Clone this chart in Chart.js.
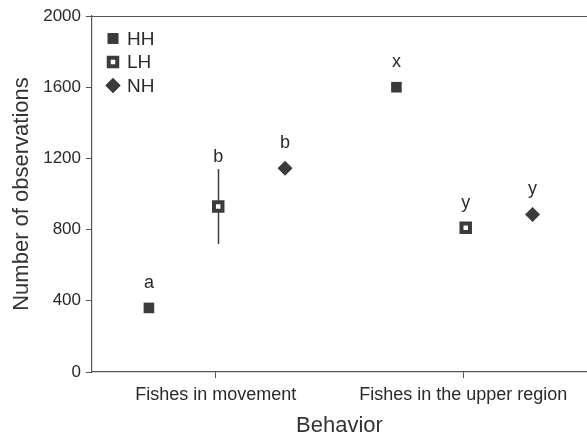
<!DOCTYPE html>
<html>
<head>
<meta charset="utf-8">
<script src="https://cdn.jsdelivr.net/npm/chart.js@4.4.0/dist/chart.umd.min.js"></script>
<style>
  html, body { margin: 0; padding: 0; background: #fff; overflow: hidden; }
  #wrap { width: 587px; height: 434px; }
</style>
</head>
<body>
<div id="wrap"><canvas id="chart"></canvas></div>
<script>
// data
const categories = ["Fishes in movement", "Fishes in the upper region"];
const groups = ["HH", "LH", "NH"];
const groupOffsets = [-0.27, 0.01, 0.28];
const hhValues = [360, 1600];
const lhValues = [930, 810];
const nhValues = [1145, 885];
const hhErrors = [15, 0];
const lhErrors = [210, 25];
const nhErrors = [0, 30];
const hhLetters = ["a", "x"];
const lhLetters = ["b", "y"];
const nhLetters = ["b", "y"];
const yTicks = [0, 400, 800, 1200, 1600, 2000];

const ink = '#3b3b3b';
const font = 'Liberation Sans, Arial, sans-serif';

function points(values, g) {
  return values.map((v, i) => ({ x: i + 1 + groupOffsets[g], y: v }));
}

const seriesValues = [hhValues, lhValues, nhValues];
const seriesErrors = [hhErrors, lhErrors, nhErrors];
const seriesLetters = [hhLetters, lhLetters, nhLetters];

// error bars, letters, top frame line and legend
const extras = {
  id: 'extras',
  beforeDatasetsDraw(chart) {
    const { ctx, scales: { x, y } } = chart;
    ctx.save();
    ctx.strokeStyle = ink;
    ctx.lineWidth = 1.5;
    seriesValues.forEach((vals, g) => {
      vals.forEach((v, i) => {
        const e = seriesErrors[g][i];
        if (!e) return;
        const px = Math.round(x.getPixelForValue(i + 1 + groupOffsets[g])) + 0.5;
        ctx.beginPath();
        ctx.moveTo(px, y.getPixelForValue(v - e));
        ctx.lineTo(px, y.getPixelForValue(v + e));
        ctx.stroke();
      });
    });
    ctx.restore();
  },
  afterDraw(chart) {
    const { ctx, chartArea, scales: { x, y } } = chart;
    ctx.save();
    // top frame
    ctx.strokeStyle = '#555';
    ctx.lineWidth = 1.2;
    ctx.beginPath();
    ctx.moveTo(chartArea.left, chartArea.top + 0.5);
    ctx.lineTo(chartArea.right, chartArea.top + 0.5);
    ctx.stroke();
    // letters
    ctx.fillStyle = '#2a2a2a';
    ctx.font = '18px ' + font;
    ctx.textAlign = 'center';
    ctx.textBaseline = 'middle';
    seriesValues.forEach((vals, g) => {
      vals.forEach((v, i) => {
        const e = seriesErrors[g][i];
        const px = x.getPixelForValue(i + 1 + groupOffsets[g]);
        const top = Math.min(y.getPixelForValue(v) - 25, y.getPixelForValue(v + e) - 12);
        ctx.fillText(seriesLetters[g][i], px, top);
      });
    });
    // legend
    ctx.font = '19px ' + font;
    ctx.textAlign = 'left';
    chart.data.datasets.forEach((ds, k) => {
      const ly = chartArea.top + 22.5 + k * 23.5;
      Chart.helpers.drawPoint(ctx, {
        pointStyle: ds.pointStyle, radius: ds.pointRadius, rotation: 0,
        borderWidth: ds.borderWidth
      }, chartArea.left + 21, ly);
      ctx.fillStyle = ds.backgroundColor;
      ctx.strokeStyle = ds.borderColor;
      ctx.lineWidth = ds.borderWidth;
      ctx.fill();
      if (ds.borderWidth) ctx.stroke();
      ctx.fillStyle = '#2a2a2a';
      ctx.fillText(ds.label, chartArea.left + 35, ly + 1);
    });
    ctx.restore();
  }
};

new Chart(document.getElementById('chart'), {
  type: 'scatter',
  data: {
    datasets: [
      { label: groups[0], data: points(hhValues, 0), pointStyle: 'rect', pointRadius: 7.5,
        backgroundColor: ink, borderColor: ink, borderWidth: 0 },
      { label: groups[1], data: points(lhValues, 1), pointStyle: 'rect', pointRadius: 6,
        backgroundColor: '#fff', borderColor: ink, borderWidth: 4 },
      { label: groups[2], data: points(nhValues, 2), pointStyle: 'rectRot', pointRadius: 7.5,
        backgroundColor: ink, borderColor: ink, borderWidth: 0 }
    ]
  },
  options: {
    responsive: true,
    maintainAspectRatio: false,
    animation: false,
    layout: { autoPadding: false, padding: { top: 16, right: -2, left: 0, bottom: 0 } },
    plugins: { legend: { display: false }, tooltip: { enabled: false } },
    elements: { point: { hoverRadius: 7.5 } },
    scales: {
      x: {
        type: 'linear', min: 0.5, max: 2.5,
        afterBuildTicks(s) { s.ticks = categories.map((c, i) => ({ value: i + 1 })); },
        afterFit(s) { s.height = 62; s.paddingRight = 0; s.paddingLeft = 0; },
        ticks: { color: '#2a2a2a', font: { family: font, size: 18 }, padding: 6,
          maxRotation: 0, callback: (v) => categories[v - 1] || '' },
        grid: { drawOnChartArea: false, drawTicks: true, tickLength: 6, color: '#555' },
        border: { color: '#555', width: 1.2 },
        title: { display: true, text: 'Behavior', color: '#333',
          font: { family: font, size: 22, lineHeight: 1 }, padding: { top: 0, bottom: -3 } }
      },
      y: {
        min: 0, max: 2000,
        afterBuildTicks(s) { s.ticks = yTicks.map(v => ({ value: v })); },
        afterFit(s) { s.width = 92; s.paddingTop = 0; s.paddingBottom = 0; },
        ticks: { color: '#2a2a2a', font: { family: font, size: 17 }, padding: 5,
          callback: (v) => String(v) },
        grid: { drawOnChartArea: false, drawTicks: true, tickLength: 6, color: '#555' },
        border: { color: '#555', width: 1.2 },
        title: { display: true, text: 'Number of observations', color: '#333',
          font: { family: font, size: 22, lineHeight: 1 }, padding: { top: 11, bottom: 0 } }
      }
    }
  },
  plugins: [extras]
});
</script>
</body>
</html>
